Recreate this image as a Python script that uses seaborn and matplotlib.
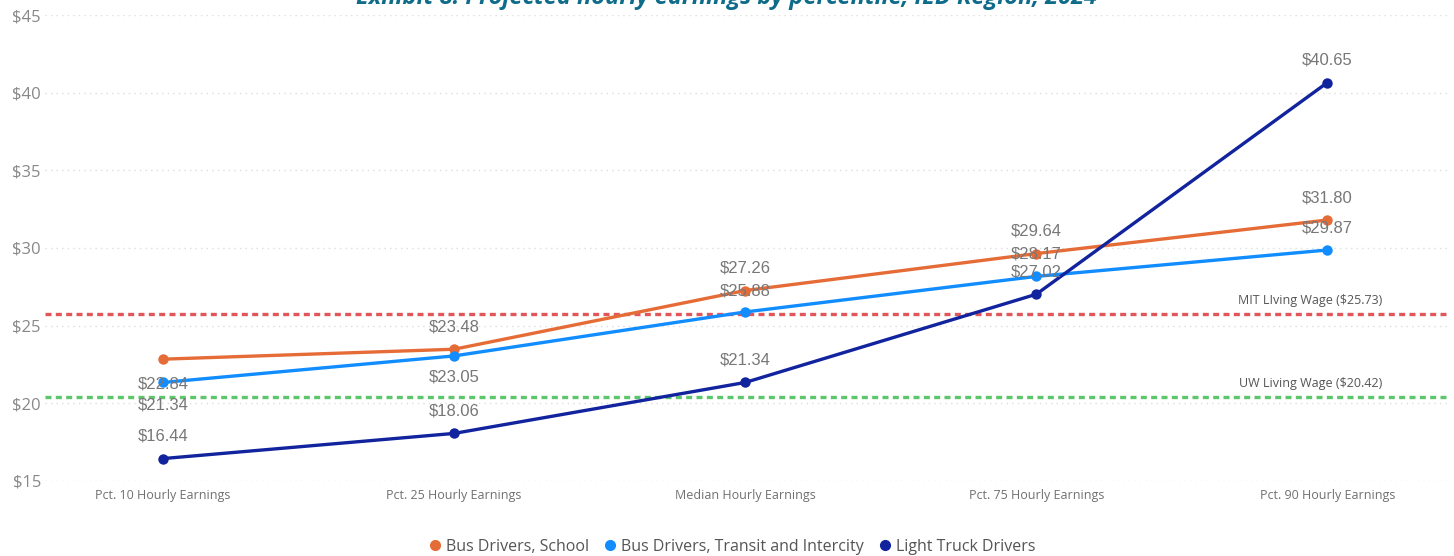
import pandas as pd
import matplotlib.pyplot as plt
import seaborn as sns
from matplotlib.lines import Line2D

# ---- data ----
categories = ["Pct. 10 Hourly Earnings", "Pct. 25 Hourly Earnings", "Median Hourly Earnings",
              "Pct. 75 Hourly Earnings", "Pct. 90 Hourly Earnings"]
school = [22.84, 23.48, 27.26, 29.64, 31.80]
transit = [21.34, 23.05, 25.88, 28.17, 29.87]
truck = [16.44, 18.06, 21.34, 27.02, 40.65]
series_names = ["Bus Drivers, School", "Bus Drivers, Transit and Intercity", "Light Truck Drivers"]
mit_wage = 25.73
uw_wage = 20.42
y_ticks = [15, 20, 25, 30, 35, 40, 45]

colors = ["#E66C37", "#118DFF", "#12239E"]
# label offsets in points (positive = above the marker)
label_offsets = [[-18, 16, 16, 16, 16],
                 [-16, -15, 15, 16, 16],
                 [16, 16, 16, 16, 16]]

rows = []
for name, vals in zip(series_names, [school, transit, truck]):
    for i, (c, v) in enumerate(zip(categories, vals)):
        rows.append({"pos": i, "category": c, "series": name, "value": v})
df = pd.DataFrame(rows)

sns.set_theme(style="white")
plt.rcParams["font.family"] = ["Open Sans", "DejaVu Sans"]

fig = plt.figure(figsize=(14.54, 5.56), dpi=100)
ax = fig.add_axes([0.031, 0.135, 0.966, 0.838])

# reference lines first (behind the series)
ax.axhline(mit_wage, color="#E15759", lw=2.4, ls=(0, (1.8, 1.3)), zorder=1)
ax.axhline(uw_wage, color="#5DC66A", lw=2.4, ls=(0, (1.8, 1.3)), zorder=1)

sns.lineplot(data=df, x="pos", y="value", hue="series", hue_order=series_names,
             palette=colors, marker="o", markersize=7.5, markeredgewidth=0,
             linewidth=2.4, sort=False, legend=False, ax=ax, zorder=3)

# data labels
for vals, offs in zip([school, transit, truck], label_offsets):
    for i, (v, o) in enumerate(zip(vals, offs)):
        ax.annotate(f"${v:.2f}", (i, v), xytext=(0, o), textcoords="offset points",
                    ha="center", va="center", fontsize=12, color="#777777",
                    family="Liberation Sans", zorder=5)

ax.text(4.19, mit_wage + 0.45, f"MIT LIving Wage (${mit_wage:.2f})", ha="right", va="bottom",
        fontsize=9, color="#555555")
ax.text(4.19, uw_wage + 0.45, f"UW Living Wage (${uw_wage:.2f})", ha="right", va="bottom",
        fontsize=9, color="#555555")

ax.set_xlim(-0.405, 4.42)
ax.set_ylim(15, 45)
ax.set_yticks(y_ticks)
ax.set_yticklabels([f"${t}" for t in y_ticks], fontsize=12, color="#888888")
ax.set_xticks(range(len(categories)))
ax.set_xticklabels(categories, fontsize=9, color="#707070")
ax.tick_params(axis="both", length=0)
ax.tick_params(axis="x", pad=6)
ax.tick_params(axis="y", pad=3)
ax.grid(axis="y", color="#DDDDDD", ls=(0, (1, 3)), lw=1)
ax.set_xlabel("")
ax.set_ylabel("")
for s in ax.spines.values():
    s.set_visible(False)

# title, mostly cut off at the top as in the original export
fig.text(0.5, 1 - 4 / 556, "Exhibit 8: Projected hourly earnings by percentile, IED Region, 2024",
         ha="center", va="baseline", fontsize=17, fontweight="bold", fontstyle="italic",
         color="#0E6B8A")

handles = [Line2D([], [], marker="o", ls="", color=c, markersize=7) for c in colors]
fig.legend(handles, series_names, loc="center", bbox_to_anchor=(0.5, 0.017), ncol=3,
           frameon=False, fontsize=11.5, handletextpad=-0.3, columnspacing=0.3,
           labelcolor="#555555")

fig.savefig("out.png", dpi=100)
